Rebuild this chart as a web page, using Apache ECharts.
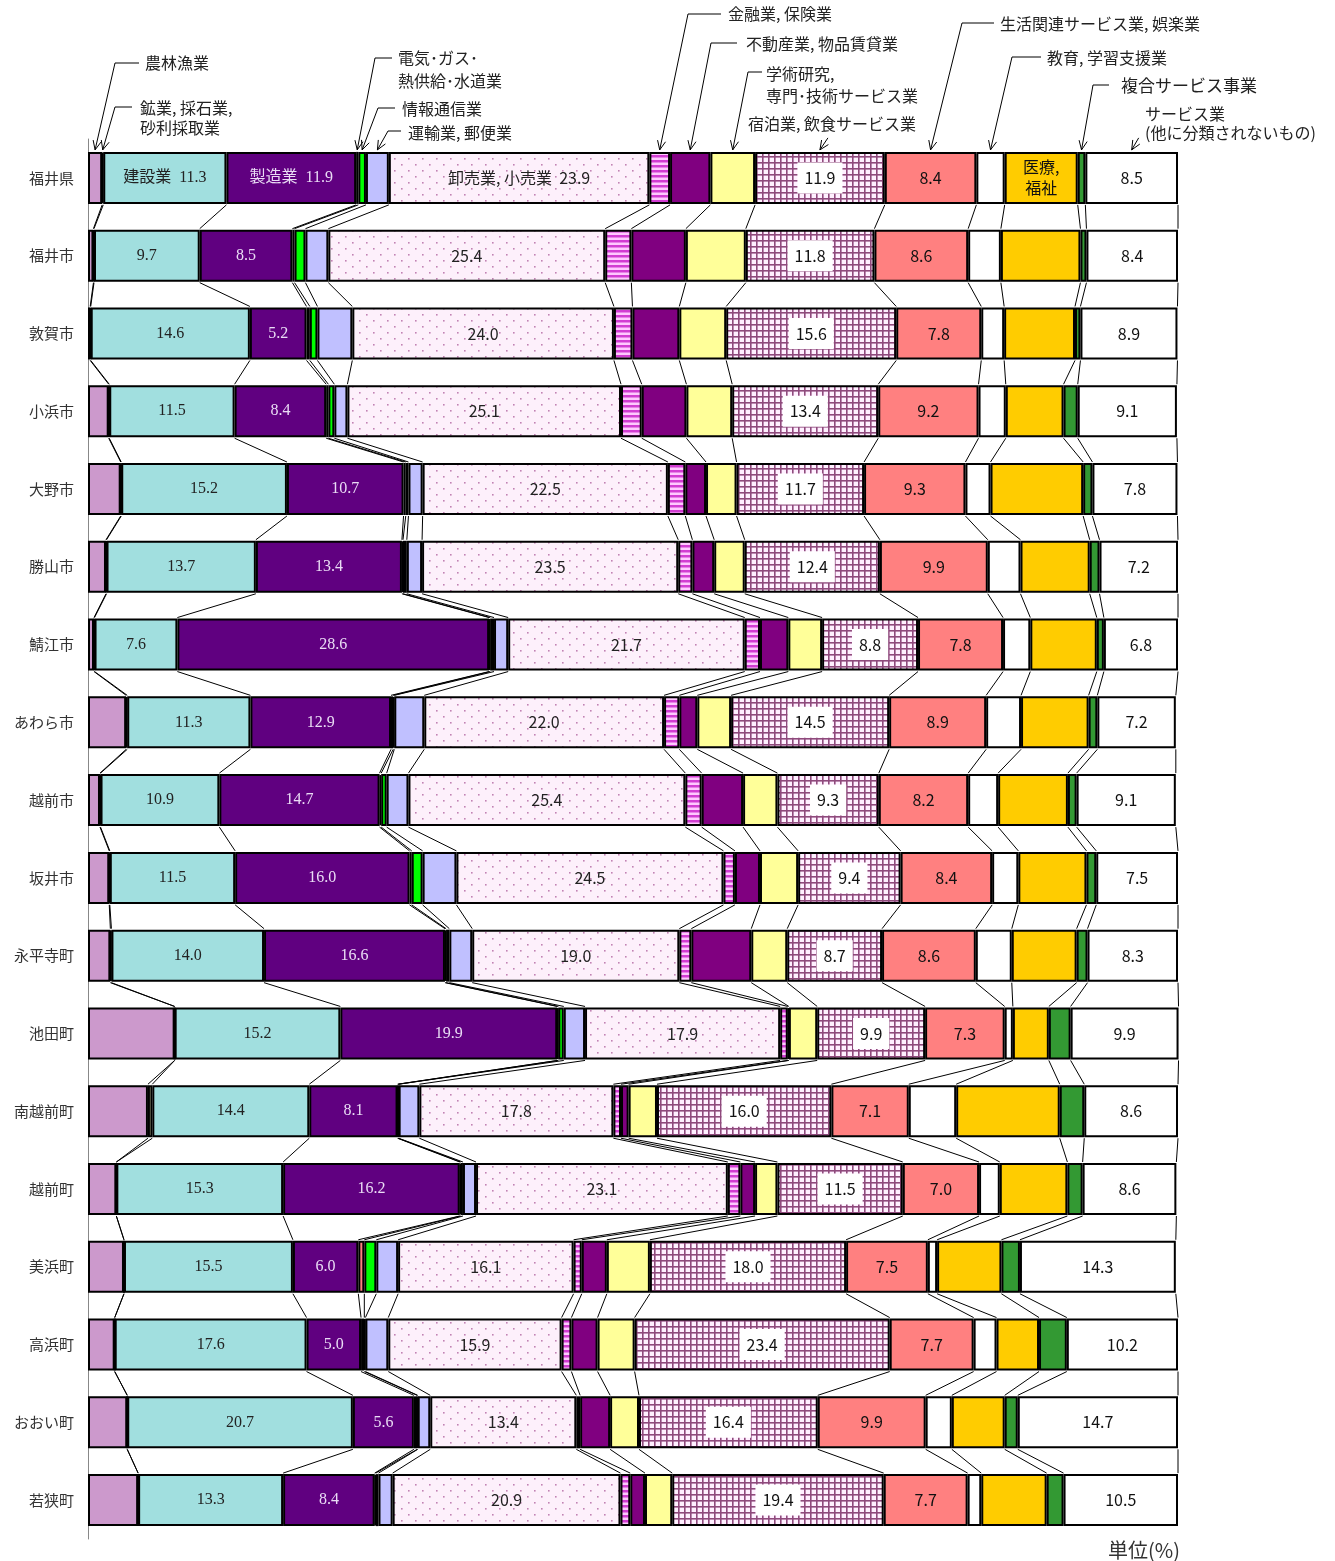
<!DOCTYPE html>
<html>
<head>
<meta charset="utf-8">
<script src="https://cdn.jsdelivr.net/npm/echarts@6/dist/echarts.min.js"></script>
<style>
html, body { margin: 0; padding: 0; background: #fff; }
#main { width: 1335px; height: 1561px; }
</style>
</head>
<body>
<div id="main"></div>
<script>
// 市町別 産業大分類別の構成比(%)
var areas = ['福井県', '福井市', '敦賀市', '小浜市', '大野市', '勝山市', '鯖江市', 'あわら市', '越前市',
  '坂井市', '永平寺町', '池田町', '南越前町', '越前町', '美浜町', '高浜町', 'おおい町', '若狭町'];

var industries = ['農林漁業', '鉱業, 採石業, 砂利採取業', '建設業', '製造業', '電気・ガス・熱供給・水道業',
  '情報通信業', '運輸業, 郵便業', '卸売業, 小売業', '金融業, 保険業', '不動産業, 物品賃貸業',
  '学術研究, 専門・技術サービス業', '宿泊業, 飲食サービス業', '生活関連サービス業, 娯楽業',
  '教育, 学習支援業', '医療, 福祉', '複合サービス事業', 'サービス業(他に分類されないもの)'];

var agri     = [1.3, 0.5, 0.2, 1.9, 3.0, 1.65, 0.55, 3.5, 1.1, 1.95, 2.05, 7.95, 5.5, 2.6, 3.3, 2.45, 3.6, 4.6];
var mining   = [0.1, 0.05, 0.05, 0.05, 0.05, 0.05, 0.05, 0.1, 0.05, 0.05, 0.1, 0, 0.4, 0, 0, 0, 0, 0];
var constr   = [11.3, 9.7, 14.6, 11.5, 15.2, 13.7, 7.6, 11.3, 10.9, 11.5, 14.0, 15.2, 14.4, 15.3, 15.5, 17.6, 20.7, 13.3];
var manuf    = [11.9, 8.5, 5.2, 8.4, 10.7, 13.4, 28.6, 12.9, 14.7, 16.0, 16.6, 19.9, 8.1, 16.2, 6.0, 5.0, 5.6, 8.4];
var elec     = [0.2, 0.2, 0.3, 0.2, 0.2, 0.1, 0.1, 0.2, 0.15, 0.2, 0.1, 0.1, 0.05, 0.1, 0.55, 0.3, 0.3, 0.1];
var info     = [0.7, 1.0, 0.7, 0.55, 0.25, 0.35, 0.35, 0.1, 0.5, 1.0, 0.3, 0.5, 0.05, 0.2, 1.1, 0.1, 0.05, 0.25];
var trans    = [2.1, 2.1, 3.2, 1.2, 1.3, 1.4, 1.3, 2.75, 2.0, 3.1, 2.1, 1.95, 1.9, 1.2, 2.0, 2.1, 1.15, 1.3];
var retail   = [23.9, 25.4, 24.0, 25.1, 22.5, 23.5, 21.7, 22.0, 25.4, 24.5, 19.0, 17.9, 17.8, 23.1, 16.1, 15.9, 13.4, 20.9];
var finance  = [1.9, 2.4, 1.7, 1.9, 1.6, 1.3, 1.4, 1.4, 1.5, 1.05, 1.1, 0.7, 0.7, 1.15, 0.75, 0.9, 0.35, 0.9];
var realty   = [3.7, 5.0, 4.3, 4.1, 1.9, 2.0, 2.6, 1.65, 3.8, 2.3, 5.5, 0.1, 0.7, 1.35, 2.3, 2.4, 2.75, 1.35];
var science  = [4.1, 5.5, 4.3, 4.2, 2.8, 2.8, 3.1, 3.1, 3.15, 3.5, 3.3, 2.6, 2.6, 2.05, 3.95, 3.4, 2.65, 2.5];
var lodging  = [11.9, 11.8, 15.6, 13.4, 11.7, 12.4, 8.8, 14.5, 9.3, 9.4, 8.7, 9.9, 16.0, 11.5, 18.0, 23.4, 16.4, 19.4];
var living   = [8.4, 8.6, 7.8, 9.2, 9.3, 9.9, 7.8, 8.9, 8.2, 8.4, 8.6, 7.3, 7.1, 7.0, 7.5, 7.7, 9.9, 7.7];
var edu      = [2.6, 3.0, 2.1, 2.5, 2.3, 3.0, 2.5, 3.2, 2.75, 2.4, 3.3, 0.75, 4.35, 1.9, 0.85, 2.1, 2.4, 1.25];
var medical  = [6.7, 7.3, 6.5, 5.3, 8.5, 6.35, 6.1, 6.2, 6.4, 6.25, 5.95, 3.3, 9.5, 6.2, 5.9, 3.9, 4.85, 6.0];
var compound = [0.7, 0.55, 0.5, 1.3, 0.85, 0.9, 0.65, 0.8, 0.8, 0.9, 1.0, 2.0, 2.25, 1.4, 1.7, 2.55, 1.2, 1.55];
var service  = [8.5, 8.4, 8.9, 9.1, 7.8, 7.2, 6.8, 7.2, 9.1, 7.5, 8.3, 9.9, 8.6, 8.6, 14.3, 10.2, 14.7, 10.5];

var values = [agri, mining, constr, manuf, elec, info, trans, retail, finance, realty,
  science, lodging, living, edu, medical, compound, service];

var BAR_W = 52;
var serif = 'Liberation Serif, Noto Sans CJK JP';
var gothic = 'Noto Sans CJK JP';

// 塗りパターン
function pattern(w, h, draw) {
  var c = document.createElement('canvas');
  c.width = w;
  c.height = h;
  draw(c.getContext('2d'));
  return { image: c, repeat: 'repeat' };
}
var dotFill = pattern(14, 12, function (ctx) {
  ctx.fillStyle = '#fdf0fb';
  ctx.fillRect(0, 0, 14, 12);
  ctx.fillStyle = '#c283b4';
  ctx.fillRect(2, 2, 1.6, 1.6);
  ctx.fillRect(9, 8, 1.6, 1.6);
});
var stripeFill = pattern(4, 5, function (ctx) {
  ctx.fillStyle = '#ffc8ff';
  ctx.fillRect(0, 0, 4, 5);
  ctx.fillStyle = '#d23cd2';
  ctx.fillRect(0, 0, 4, 2.5);
});
var checkFill = pattern(6, 6, function (ctx) {
  ctx.fillStyle = '#fff0ff';
  ctx.fillRect(0, 0, 6, 6);
  ctx.fillStyle = '#8f4a7c';
  ctx.fillRect(0, 0, 6, 1.6);
  ctx.fillRect(0, 0, 1.6, 6);
});

var fills = ['#cc99cc', '#ffffcc', '#a1dfdf', '#600080', '#ff8080', '#00ff00', '#c0c0ff', dotFill,
  stripeFill, '#800080', '#ffff99', checkFill, '#ff8080', '#ffffff', '#ffcc00', '#339933', '#ffffff'];

// ラベル（1行目のみ業種名付き）
var labels = {
  2: { color: '#222', font: serif, first: '建設業  ' },
  3: { color: '#eadcf5', font: serif, first: '製造業  ' },
  7: { color: '#222', font: gothic, first: '卸売業, 小売業  ' },
  11: { color: '#111', font: gothic, first: '', box: true },
  12: { color: '#111', font: gothic, first: '' },
  14: { color: '#111', font: gothic, only: '医療,\n福祉' },
  16: { color: '#111', font: gothic, first: '' }
};

var series = industries.map(function (name, k) {
  var lab = labels[k];
  var s = {
    name: name,
    type: 'bar',
    stack: 'total',
    barWidth: BAR_W,
    data: values[k],
    itemStyle: { color: fills[k], borderColor: '#000', borderWidth: 2 },
    emphasis: { disabled: true },
    label: { show: false },
    z: 2
  };
  if (lab) {
    s.label = {
      show: true,
      position: 'inside',
      color: lab.color,
      fontFamily: lab.font,
      fontSize: 16,
      lineHeight: 21,
      formatter: function (p) {
        if (lab.only) return p.dataIndex === 0 ? lab.only : '';
        return (p.dataIndex === 0 ? lab.first : '') + p.value.toFixed(1);
      }
    };
    if (lab.box) {
      s.label.backgroundColor = '#fff';
      s.label.padding = [5, 7];
    }
  }
  return s;
});

// 累積値（区切り線用）
var cum = areas.map(function (a, i) {
  var t = 0;
  return values.map(function (v) { t += v[i]; return t; });
});

// 隣り合う棒の区切りを結ぶ線
series.push({
  type: 'custom',
  silent: true,
  z: 1,
  data: areas.slice(1).map(function (a, i) { return [0, i]; }),
  renderItem: function (params, api) {
    var i = api.value(1);
    var lines = cum[i].map(function (c, k) {
      var a = api.coord([c, i]);
      var b = api.coord([cum[i + 1][k], i + 1]);
      return {
        type: 'line',
        shape: { x1: a[0], y1: a[1] + BAR_W / 2 + 1, x2: b[0], y2: b[1] - BAR_W / 2 - 1 },
        style: { stroke: '#000', lineWidth: 1 }
      };
    });
    return { type: 'group', children: lines };
  }
});

var chart = echarts.init(document.getElementById('main'));
chart.setOption({
  backgroundColor: '#fff',
  animation: false,
  grid: { left: 88, right: 157, top: 139, bottom: 22 },
  xAxis: { type: 'value', min: 0, max: 100, show: false },
  yAxis: {
    type: 'category',
    data: areas,
    inverse: true,
    axisLine: { show: true, lineStyle: { color: '#888', width: 1 } },
    axisTick: { show: false },
    axisLabel: { fontSize: 15, color: '#333', margin: 14, fontFamily: gothic }
  },
  series: series
});

// 上部の業種名と引出し線（先端は福井県の棒から）
var notes = [
  { seg: 0, text: '農林漁業', tx: 145, top: 52, lh: 21, ex: 115, ey: 63, hx: 139 },
  { seg: 1, text: '鉱業, 採石業,\n砂利採取業', tx: 140, top: 98, lh: 20, ex: 115, ey: 107, hx: 132 },
  { seg: 4, text: '電気･ガス･\n熱供給･水道業', tx: 398, top: 46, lh: 23, ex: 375, ey: 58, hx: 392 },
  { seg: 5, text: '情報通信業', tx: 402, top: 98, lh: 21, ex: 378, ey: 108, hx: 395 },
  { seg: 6, text: '運輸業, 郵便業', tx: 408, top: 122, lh: 21, ex: 388, ey: 131, hx: 401 },
  { seg: 8, text: '金融業, 保険業', tx: 728, top: 3, lh: 21, ex: 688, ey: 14, hx: 721 },
  { seg: 9, text: '不動産業, 物品賃貸業', tx: 746, top: 33, lh: 21, ex: 711, ey: 43, hx: 737 },
  { seg: 10, text: '学術研究,\n専門･技術サービス業', tx: 766, top: 63, lh: 22, ex: 748, ey: 72, hx: 762 },
  { seg: 11, text: '宿泊業, 飲食サービス業', tx: 748, top: 113, lh: 21, dx: 8 },
  { seg: 12, text: '生活関連サービス業, 娯楽業', tx: 1000, top: 13, lh: 21, ex: 962, ey: 23, hx: 994 },
  { seg: 13, text: '教育, 学習支援業', tx: 1047, top: 47, lh: 21, ex: 1012, ey: 57, hx: 1041 },
  { seg: 15, text: '複合サービス事業', tx: 1121, top: 75, lh: 21, ex: 1093, ey: 85, hx: 1109, fs: 17 },
  { seg: 16, text: 'サービス業\n(他に分類されないもの)', tx: 1145, top: 104, lh: 19, dx: 7 }
];

var tipY = chart.convertToPixel({ gridIndex: 0 }, [0, 0])[1] - BAR_W / 2 - 2;
function tipX(k) {
  var lo = k ? cum[0][k - 1] : 0;
  return chart.convertToPixel({ gridIndex: 0 }, [(lo + cum[0][k]) / 2, 0])[0];
}
function head(fx, fy, x, y) {
  var ang = Math.atan2(y - fy, x - fx), L = 10, s = 0.42;
  return {
    type: 'polyline',
    shape: { points: [[x - L * Math.cos(ang - s), y - L * Math.sin(ang - s)], [x, y],
      [x - L * Math.cos(ang + s), y - L * Math.sin(ang + s)]] },
    style: { stroke: '#000', lineWidth: 1, fill: 'none' }
  };
}

var graphics = [];
notes.forEach(function (n) {
  var x = tipX(n.seg);
  var pts;
  if (n.dx) {
    pts = [[x + n.dx, tipY - 12], [x, tipY]];
  } else {
    pts = [[n.hx, n.ey], [n.ex, n.ey], [x, tipY]];
  }
  graphics.push({ type: 'polyline', shape: { points: pts }, style: { stroke: '#000', lineWidth: 1, fill: 'none' } });
  var from = pts[pts.length - 2];
  graphics.push(head(from[0], from[1], x, tipY));
  graphics.push({
    type: 'text', x: n.tx, y: n.top,
    style: { text: n.text, fontSize: n.fs || 16, fontFamily: gothic, fill: '#222', lineHeight: n.lh, verticalAlign: 'top' }
  });
});
graphics.push({
  type: 'text', x: 1180, y: 1550,
  style: { text: '単位(%)', fontSize: 20, fontFamily: gothic, fill: '#333', align: 'right', verticalAlign: 'middle' }
});

chart.setOption({ graphic: graphics });
</script>
</body>
</html>
